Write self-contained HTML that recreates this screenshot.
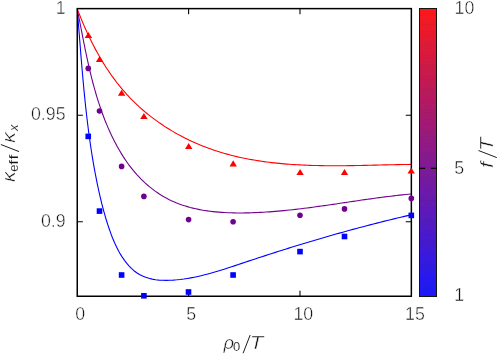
<!DOCTYPE html>
<html><head><meta charset="utf-8"><title>plot</title>
<style>
html,body{margin:0;padding:0;background:#fff;}
svg{display:block;will-change:transform;opacity:0.999;}
text{font-family:"Liberation Sans",sans-serif;fill:#111111;stroke:#fff;stroke-width:0.45px;}
text.s{stroke-width:0.12px;}
</style></head><body>
<svg width="498" height="354" viewBox="0 0 498 354">
<defs>
<linearGradient id="cb" x1="0" y1="0" x2="0" y2="1">
<stop offset="0" stop-color="#ff1a1a"/><stop offset="1" stop-color="#1a1aff"/>
</linearGradient>
<pattern id="st" width="18" height="2.2" patternUnits="userSpaceOnUse"><rect width="18" height="0.5" fill="#000" fill-opacity="0.07"/></pattern>
<clipPath id="cp"><rect x="76.8" y="8.1" width="335.1" height="288.6"/></clipPath>
</defs>
<rect width="498" height="354" fill="#fff"/>

<g fill="none" stroke-width="1.1" stroke-linejoin="round" clip-path="url(#cp)">
<path stroke="#0000ff" d="M77.20,8.80 L77.49,12.28 L77.77,15.77 L78.05,19.26 L78.34,22.75 L78.61,26.25 L78.89,29.76 L79.17,33.26 L79.45,36.77 L79.73,40.28 L80.01,43.79 L80.29,47.31 L80.57,50.83 L80.85,54.35 L81.14,57.87 L81.43,61.39 L81.73,64.91 L82.02,68.44 L82.33,71.96 L82.64,75.49 L82.95,79.02 L83.27,82.54 L83.60,86.07 L83.93,89.60 L84.27,93.12 L84.62,96.65 L84.98,100.17 L85.35,103.69 L85.72,107.21 L86.11,110.73 L86.50,114.25 L86.91,117.76 L87.33,121.28 L87.76,124.79 L88.20,128.29 L88.65,131.80 L89.12,135.30 L89.60,138.79 L90.09,142.29 L90.60,145.78 L91.13,149.26 L91.67,152.74 L92.22,156.22 L92.79,159.69 L93.38,163.16 L93.99,166.62 L94.61,170.07 L95.25,173.52 L95.91,176.96 L96.59,180.40 L97.29,183.83 L98.01,187.26 L98.75,190.67 L99.51,194.08 L100.30,197.49 L101.11,200.89 L101.95,204.29 L102.83,207.68 L103.74,211.07 L104.69,214.46 L105.67,217.85 L106.71,221.25 L107.79,224.64 L108.91,228.04 L110.10,231.44 L111.34,234.83 L112.65,238.21 L114.04,241.55 L115.51,244.85 L117.08,248.10 L118.75,251.29 L120.54,254.40 L122.44,257.43 L124.47,260.36 L126.64,263.18 L128.94,265.87 L131.38,268.38 L133.97,270.69 L136.69,272.75 L139.55,274.55 L142.55,276.07 L145.67,277.32 L148.90,278.33 L152.21,279.12 L155.61,279.69 L159.06,280.08 L162.57,280.30 L166.11,280.36 L169.67,280.29 L173.23,280.10 L176.78,279.81 L180.32,279.44 L183.83,278.99 L187.33,278.46 L190.82,277.86 L194.28,277.19 L197.74,276.46 L201.18,275.67 L204.61,274.83 L208.02,273.94 L211.43,273.01 L214.83,272.04 L218.22,271.03 L221.60,269.99 L224.97,268.93 L228.34,267.84 L231.70,266.74 L235.06,265.63 L238.42,264.50 L241.78,263.38 L245.13,262.25 L248.49,261.13 L251.85,260.02 L255.20,258.91 L258.56,257.80 L261.92,256.71 L265.28,255.61 L268.63,254.53 L271.99,253.45 L275.35,252.37 L278.71,251.30 L282.08,250.24 L285.44,249.18 L288.80,248.13 L292.17,247.09 L295.53,246.05 L298.90,245.02 L302.27,243.99 L305.64,242.97 L309.01,241.96 L312.39,240.95 L315.76,239.95 L319.14,238.96 L322.52,237.97 L325.90,236.99 L329.28,236.02 L332.66,235.05 L336.05,234.09 L339.44,233.14 L342.83,232.19 L346.22,231.25 L349.61,230.32 L353.01,229.39 L356.41,228.48 L359.81,227.56 L363.22,226.66 L366.63,225.76 L370.04,224.88 L373.45,223.99 L376.87,223.12 L380.28,222.25 L383.71,221.39 L387.13,220.54 L390.56,219.70 L393.99,218.86 L397.43,218.03 L400.86,217.21 L404.31,216.40 L407.75,215.60 L411.20,214.80"/>
<path stroke="#71008e" d="M77.20,8.80 L77.77,11.64 L78.33,14.48 L78.89,17.32 L79.45,20.17 L80.00,23.02 L80.56,25.88 L81.11,28.74 L81.67,31.60 L82.23,34.46 L82.79,37.32 L83.36,40.18 L83.93,43.05 L84.51,45.91 L85.09,48.77 L85.68,51.64 L86.28,54.50 L86.89,57.36 L87.51,60.22 L88.14,63.08 L88.78,65.93 L89.44,68.78 L90.11,71.63 L90.79,74.48 L91.49,77.32 L92.21,80.15 L92.95,82.99 L93.70,85.81 L94.48,88.64 L95.27,91.45 L96.09,94.26 L96.93,97.06 L97.79,99.86 L98.68,102.65 L99.59,105.43 L100.53,108.20 L101.49,110.96 L102.49,113.72 L103.51,116.47 L104.56,119.20 L105.64,121.93 L106.76,124.64 L107.90,127.35 L109.08,130.04 L110.30,132.73 L111.55,135.40 L112.84,138.05 L114.16,140.70 L115.52,143.32 L116.92,145.93 L118.36,148.52 L119.84,151.08 L121.37,153.62 L122.93,156.12 L124.54,158.60 L126.19,161.04 L127.89,163.45 L129.63,165.81 L131.42,168.14 L133.25,170.42 L135.14,172.66 L137.07,174.85 L139.05,176.99 L141.08,179.08 L143.16,181.11 L145.28,183.09 L147.44,185.01 L149.65,186.87 L151.91,188.67 L154.20,190.40 L156.54,192.08 L158.92,193.68 L161.33,195.22 L163.79,196.68 L166.28,198.08 L168.80,199.40 L171.37,200.64 L173.96,201.81 L176.59,202.91 L179.25,203.95 L181.94,204.91 L184.66,205.81 L187.40,206.64 L190.17,207.42 L192.96,208.13 L195.78,208.78 L198.62,209.38 L201.47,209.93 L204.34,210.42 L207.23,210.86 L210.14,211.26 L213.06,211.61 L215.99,211.91 L218.93,212.17 L221.88,212.39 L224.84,212.57 L227.81,212.71 L230.78,212.82 L233.75,212.90 L236.73,212.94 L239.70,212.96 L242.68,212.94 L245.65,212.90 L248.62,212.84 L251.59,212.76 L254.55,212.65 L257.50,212.53 L260.45,212.38 L263.40,212.22 L266.34,212.04 L269.27,211.84 L272.20,211.62 L275.13,211.39 L278.05,211.14 L280.97,210.88 L283.88,210.60 L286.79,210.31 L289.70,210.01 L292.60,209.70 L295.50,209.37 L298.40,209.03 L301.30,208.68 L304.19,208.32 L307.08,207.96 L309.97,207.58 L312.86,207.20 L315.74,206.80 L318.62,206.41 L321.51,206.00 L324.39,205.59 L327.27,205.18 L330.15,204.76 L333.03,204.34 L335.90,203.92 L338.78,203.49 L341.66,203.06 L344.54,202.63 L347.42,202.21 L350.30,201.78 L353.18,201.35 L356.06,200.92 L358.94,200.50 L361.82,200.08 L364.70,199.66 L367.59,199.25 L370.48,198.84 L373.37,198.44 L376.26,198.04 L379.15,197.65 L382.05,197.27 L384.95,196.90 L387.85,196.53 L390.76,196.18 L393.67,195.83 L396.58,195.50 L399.50,195.17 L402.42,194.86 L405.34,194.56 L408.27,194.27 L411.20,194.00"/>
<path stroke="#ff0000" d="M77.20,8.80 L78.10,11.14 L79.01,13.48 L79.93,15.81 L80.88,18.15 L81.84,20.48 L82.82,22.82 L83.82,25.15 L84.83,27.47 L85.87,29.79 L86.92,32.11 L87.99,34.42 L89.08,36.72 L90.19,39.02 L91.32,41.31 L92.47,43.59 L93.63,45.86 L94.82,48.12 L96.03,50.37 L97.26,52.61 L98.51,54.84 L99.78,57.06 L101.07,59.26 L102.39,61.45 L103.72,63.63 L105.08,65.79 L106.46,67.93 L107.86,70.06 L109.29,72.17 L110.73,74.27 L112.21,76.35 L113.70,78.40 L115.22,80.44 L116.76,82.46 L118.33,84.46 L119.92,86.43 L121.53,88.39 L123.17,90.32 L124.83,92.23 L126.52,94.11 L128.24,95.97 L129.98,97.81 L131.74,99.62 L133.53,101.41 L135.34,103.17 L137.17,104.90 L139.03,106.62 L140.91,108.31 L142.81,109.97 L144.73,111.61 L146.67,113.22 L148.63,114.81 L150.62,116.37 L152.62,117.91 L154.64,119.42 L156.68,120.91 L158.74,122.37 L160.82,123.81 L162.91,125.22 L165.02,126.61 L167.15,127.97 L169.29,129.30 L171.45,130.61 L173.63,131.89 L175.82,133.15 L178.03,134.38 L180.25,135.59 L182.48,136.77 L184.73,137.92 L186.99,139.04 L189.26,140.14 L191.54,141.22 L193.84,142.26 L196.15,143.29 L198.46,144.28 L200.79,145.25 L203.13,146.19 L205.48,147.10 L207.84,147.99 L210.21,148.85 L212.58,149.68 L214.96,150.48 L217.36,151.26 L219.75,152.02 L222.16,152.75 L224.58,153.45 L227.00,154.13 L229.43,154.78 L231.86,155.41 L234.31,156.02 L236.76,156.61 L239.21,157.17 L241.67,157.71 L244.14,158.22 L246.62,158.72 L249.09,159.20 L251.58,159.65 L254.07,160.08 L256.57,160.50 L259.07,160.89 L261.57,161.27 L264.08,161.63 L266.60,161.97 L269.11,162.29 L271.64,162.59 L274.16,162.88 L276.69,163.15 L279.23,163.41 L281.76,163.65 L284.30,163.87 L286.85,164.08 L289.39,164.27 L291.94,164.45 L294.49,164.62 L297.05,164.77 L299.60,164.91 L302.16,165.04 L304.72,165.15 L307.28,165.26 L309.84,165.35 L312.40,165.43 L314.97,165.50 L317.53,165.56 L320.10,165.61 L322.66,165.66 L325.23,165.69 L327.79,165.71 L330.36,165.73 L332.92,165.74 L335.49,165.74 L338.05,165.74 L340.62,165.72 L343.18,165.71 L345.74,165.68 L348.30,165.65 L350.86,165.62 L353.41,165.58 L355.97,165.54 L358.52,165.49 L361.07,165.44 L363.62,165.39 L366.16,165.34 L368.70,165.28 L371.24,165.22 L373.78,165.16 L376.31,165.10 L378.84,165.04 L381.36,164.98 L383.88,164.92 L386.40,164.86 L388.91,164.80 L391.42,164.75 L393.92,164.69 L396.42,164.64 L398.91,164.59 L401.40,164.55 L403.89,164.50 L406.36,164.46 L408.83,164.43 L411.30,164.40"/>
</g>
<g stroke="#000" stroke-width="1.08" fill="none">
<rect x="77.25" y="8.62" width="334.1" height="287.63" stroke-width="1.5"/>
<path d="M188.62,296.25 v-5.6 M188.62,8.62 v5.6"/>
<path d="M299.98,296.25 v-5.6 M299.98,8.62 v5.6"/>
<path d="M77.25,115.17 h5.6 M411.35,115.17 h-5.6"/>
<path d="M77.25,221.72 h5.6 M411.35,221.72 h-5.6"/>
</g>
<g fill="#0000ff"><rect x="85.45" y="133.60" width="5.6" height="5.6"/><rect x="96.70" y="208.30" width="5.6" height="5.6"/><rect x="118.80" y="272.20" width="5.6" height="5.6"/><rect x="141.10" y="293.00" width="5.6" height="5.6"/><rect x="185.70" y="289.20" width="5.6" height="5.6"/><rect x="230.30" y="272.20" width="5.6" height="5.6"/><rect x="297.20" y="248.80" width="5.6" height="5.6"/><rect x="341.70" y="233.70" width="5.6" height="5.6"/><rect x="408.50" y="212.60" width="5.6" height="5.6"/></g>
<g fill="#71008e"><circle cx="88.25" cy="68.40" r="2.8"/><circle cx="99.50" cy="111.00" r="2.8"/><circle cx="121.60" cy="166.40" r="2.8"/><circle cx="143.90" cy="196.40" r="2.8"/><circle cx="188.60" cy="219.60" r="2.8"/><circle cx="233.10" cy="221.80" r="2.8"/><circle cx="300.00" cy="215.20" r="2.8"/><circle cx="344.50" cy="208.90" r="2.8"/><circle cx="411.30" cy="198.40" r="2.8"/></g>
<g fill="#ff0000"><path d="M88.40,32.00 l3.7,6.1 h-7.4 z"/><path d="M99.60,56.00 l3.7,6.1 h-7.4 z"/><path d="M121.60,89.70 l3.7,6.1 h-7.4 z"/><path d="M143.90,113.00 l3.7,6.1 h-7.4 z"/><path d="M188.70,143.00 l3.7,6.1 h-7.4 z"/><path d="M233.20,160.30 l3.7,6.1 h-7.4 z"/><path d="M300.10,169.00 l3.7,6.1 h-7.4 z"/><path d="M344.50,169.00 l3.7,6.1 h-7.4 z"/><path d="M411.20,167.40 l3.7,6.1 h-7.4 z"/></g>
<rect x="419.5" y="8.5" width="17.0" height="288.0" fill="url(#cb)"/>
<rect x="419.5" y="8.5" width="17.0" height="288.0" fill="url(#st)"/>
<rect x="419.5" y="8.5" width="17.0" height="288.0" fill="none" stroke="#15150f" stroke-width="1.0"/>
<path stroke="#000" stroke-width="1.2" d="M419.5,168.41 h5.6 M436.5,168.41 h-5.6"/>
<text x="65.6" y="13.6" font-size="17.8" text-anchor="end" >1</text>
<text x="65.6" y="120.4" font-size="17.8" text-anchor="end" >0.95</text>
<text x="65.6" y="226.8" font-size="17.8" text-anchor="end" >0.9</text>
<text x="80.3" y="320.4" font-size="17.8" text-anchor="middle" >0</text>
<text x="191.2" y="320.4" font-size="17.8" text-anchor="middle" >5</text>
<text x="303.3" y="320.4" font-size="17.8" text-anchor="middle" >10</text>
<text x="415" y="320.4" font-size="17.8" text-anchor="middle" >15</text>
<text x="454.6" y="13.8" font-size="17.8" text-anchor="start" >10</text>
<text x="454.2" y="173.6" font-size="17.8" text-anchor="start" >5</text>
<text x="454.2" y="300.8" font-size="17.8" text-anchor="start" >1</text>
<g font-size="18.4"><text x="223.4" y="349" font-style="italic">ρ</text><text x="233.0" y="351.2" font-size="13.0" class="s">0</text><text transform="translate(249.8,349) scale(1.2,1)" font-style="italic">T</text><path d="M243.1,353.2 L250.2,335.0" stroke="#111111" stroke-width="0.95" fill="none"/></g>
<g transform="translate(15.4,181.6) rotate(-90)" font-size="18.4"><text transform="translate(-0.6,0) scale(1.2,1)" font-style="italic">κ</text><text transform="translate(9.8,2.8) scale(1.0,1)" font-size="13.0" class="s">e</text><text transform="translate(16.9,2.8) scale(1.3,1)" font-size="13.0" class="s">f</text><text transform="translate(22.0,2.8) scale(1.3,1)" font-size="13.0" class="s">f</text><path d="M30.0,3.6 L37.1,-14.5" stroke="#111111" stroke-width="0.95" fill="none"/><text transform="translate(38.6,0) scale(1.2,1)" font-style="italic">κ</text><text transform="translate(50.6,2.8) scale(1.0,1)" font-size="13.0" font-style="italic" class="s">x</text></g>
<g transform="translate(492.5,167.3) rotate(-90)" font-size="18.4"><text transform="translate(-0.8,0) scale(1.2,1)" font-style="italic">f</text><path d="M9.7,4.3 L16.8,-14.0" stroke="#111111" stroke-width="0.95" fill="none"/><text transform="translate(16.3,0) scale(1.2,1)" font-style="italic">T</text></g>
</svg></body></html>
